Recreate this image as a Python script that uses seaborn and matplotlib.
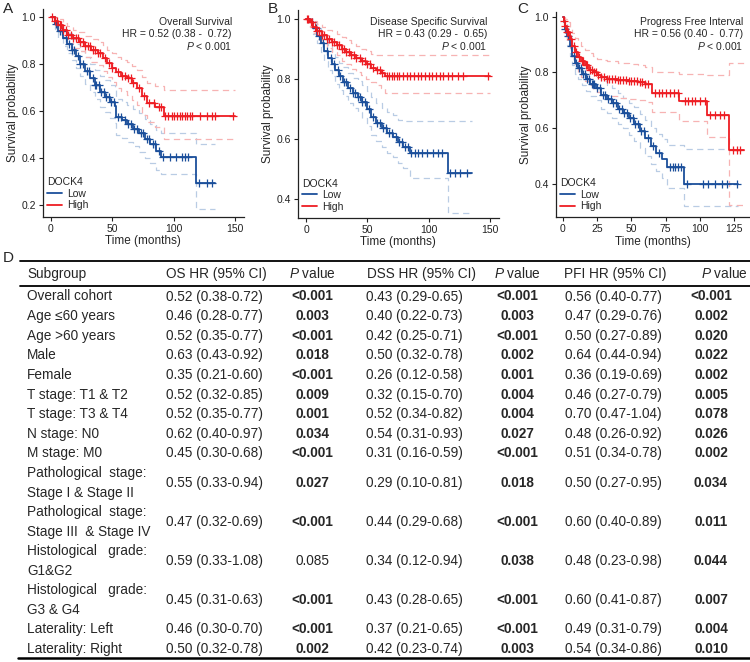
import numpy as np
import matplotlib
matplotlib.use("Agg")
import matplotlib.pyplot as plt
import seaborn as sns

# ---- KM curves (step points) ----
# A: overall survival
os_low_t = [0, 3, 6, 10, 13, 17, 20, 24, 28, 32, 36, 40, 44, 48, 52, 53, 58, 62, 67, 72, 77, 81, 86, 90, 118, 134]
os_low_s = [1.0, 0.97, 0.94, 0.91, 0.885, 0.86, 0.835, 0.80, 0.77, 0.74, 0.71, 0.68, 0.66, 0.64, 0.62, 0.575, 0.56, 0.545, 0.525, 0.505, 0.48, 0.46, 0.43, 0.405, 0.295, 0.295]
os_low_lo = [1.0, 0.95, 0.91, 0.875, 0.845, 0.815, 0.785, 0.75, 0.715, 0.68, 0.65, 0.615, 0.595, 0.57, 0.55, 0.50, 0.485, 0.47, 0.45, 0.425, 0.40, 0.38, 0.35, 0.33, 0.185, 0.185]
os_low_hi = [1.0, 0.99, 0.97, 0.95, 0.93, 0.905, 0.885, 0.855, 0.83, 0.80, 0.775, 0.75, 0.73, 0.71, 0.695, 0.65, 0.64, 0.625, 0.61, 0.59, 0.565, 0.545, 0.52, 0.505, 0.46, 0.46]
os_low_cens = [4, 7, 9, 12, 15, 17, 19, 22, 24, 26, 29, 31, 34, 36, 37, 39, 41, 43, 45, 47, 49, 51, 55, 57, 60, 63, 65, 68, 70, 73, 75, 78, 80, 83, 85, 88,
               91.5, 97, 102, 106.5, 109, 112, 121, 127, 131]
os_high_t = [0, 3, 6, 10, 13, 18, 23, 28, 33, 38, 42, 46, 50, 53, 57, 62, 66, 70, 74, 78, 85, 92, 150]
os_high_s = [1.0, 0.985, 0.965, 0.945, 0.925, 0.91, 0.895, 0.875, 0.86, 0.845, 0.825, 0.805, 0.785, 0.765, 0.75, 0.74, 0.72, 0.70, 0.665, 0.635, 0.615, 0.578, 0.578]
os_high_lo = [1.0, 0.97, 0.94, 0.915, 0.89, 0.87, 0.855, 0.83, 0.81, 0.795, 0.77, 0.745, 0.725, 0.70, 0.685, 0.67, 0.645, 0.625, 0.585, 0.555, 0.53, 0.48, 0.48]
os_high_hi = [1.0, 1.0, 0.99, 0.975, 0.96, 0.945, 0.935, 0.92, 0.905, 0.895, 0.88, 0.86, 0.845, 0.83, 0.815, 0.81, 0.79, 0.775, 0.745, 0.72, 0.705, 0.69, 0.69]
os_high_cens = [1, 3, 5, 7, 8, 10, 12, 14, 16, 18, 20, 22, 24, 26, 28, 30, 32, 34, 36, 38, 40, 44, 47, 50, 55, 58, 60, 63, 65, 67, 72, 76, 80, 84, 88, 90,
                93, 95.6, 98.4, 100, 102.4, 105, 107, 109, 111, 113, 114.6, 121.4, 127, 131, 133.6, 148.6]

# B: disease specific survival
dss_low_t = [0, 3, 6, 9, 12, 15, 18, 21, 24, 27, 30, 34, 38, 42, 46, 50, 53, 57, 62, 66, 71, 75, 79, 85, 116, 135]
dss_low_s = [1.0, 0.99, 0.97, 0.945, 0.92, 0.895, 0.87, 0.85, 0.83, 0.81, 0.79, 0.77, 0.755, 0.74, 0.725, 0.70, 0.675, 0.655, 0.637, 0.62, 0.607, 0.59, 0.575, 0.553, 0.487, 0.487]
dss_low_lo = [1.0, 0.975, 0.95, 0.92, 0.89, 0.86, 0.83, 0.81, 0.785, 0.765, 0.745, 0.72, 0.705, 0.69, 0.67, 0.645, 0.615, 0.595, 0.575, 0.555, 0.54, 0.52, 0.505, 0.472, 0.355, 0.355]
dss_low_hi = [1.0, 1.0, 0.99, 0.97, 0.95, 0.93, 0.91, 0.89, 0.875, 0.855, 0.84, 0.82, 0.805, 0.795, 0.78, 0.76, 0.74, 0.72, 0.705, 0.69, 0.68, 0.665, 0.661, 0.661, 0.661, 0.661]
dss_low_cens = [5, 8, 11, 14, 17, 20, 23, 26, 28, 31, 33, 36, 38, 40, 42, 44, 46, 48, 51, 55, 58, 60, 63, 65, 68, 70, 73, 76, 78, 81, 83,
                86, 88.9, 91.6, 94.3, 98.4, 103.8, 107.8, 110.6, 117.4, 121.4, 125.5, 131]
dss_high_t = [0, 3, 6, 9, 13, 17, 21, 25, 29, 33, 37, 41, 45, 49, 53, 57, 61, 64, 150]
dss_high_s = [1.0, 0.99, 0.975, 0.96, 0.948, 0.935, 0.925, 0.915, 0.90, 0.89, 0.88, 0.87, 0.86, 0.85, 0.837, 0.83, 0.82, 0.811, 0.811]
dss_high_lo = [1.0, 0.975, 0.955, 0.935, 0.92, 0.905, 0.89, 0.88, 0.86, 0.85, 0.835, 0.825, 0.815, 0.80, 0.79, 0.78, 0.77, 0.755, 0.753]
dss_high_hi = [1.0, 1.0, 0.995, 0.985, 0.975, 0.965, 0.96, 0.95, 0.94, 0.93, 0.92, 0.91, 0.90, 0.895, 0.885, 0.882, 0.881, 0.881, 0.881]
dss_high_cens = [1, 2, 4, 5, 7, 9, 11, 13, 15, 17, 19, 21, 23, 25, 27, 29, 31, 33, 35, 37, 39, 41, 44, 46, 48, 50, 52, 55, 58, 60, 62,
                 66, 68, 70, 72, 74, 76, 79, 82, 85, 88, 91, 94, 97, 100, 103, 106, 109, 112, 116, 119, 124, 128, 148.6]

# C: progress free interval
pfi_low_t = [0, 1, 2, 3, 5, 7, 9, 11, 14, 17, 20, 24, 28, 32, 36, 40, 44, 48, 52, 56, 60, 64, 68, 72, 76, 88, 128]
pfi_low_s = [1.0, 0.98, 0.955, 0.93, 0.895, 0.86, 0.835, 0.815, 0.795, 0.775, 0.76, 0.745, 0.72, 0.705, 0.69, 0.67, 0.655, 0.635, 0.615, 0.59, 0.565, 0.535, 0.51, 0.49, 0.462, 0.40, 0.40]
pfi_low_lo = [1.0, 0.965, 0.93, 0.90, 0.86, 0.825, 0.795, 0.775, 0.755, 0.735, 0.715, 0.70, 0.67, 0.655, 0.635, 0.615, 0.60, 0.575, 0.555, 0.53, 0.50, 0.47, 0.445, 0.42, 0.385, 0.32, 0.32]
pfi_low_hi = [1.0, 0.995, 0.98, 0.96, 0.93, 0.90, 0.875, 0.855, 0.835, 0.82, 0.805, 0.79, 0.77, 0.755, 0.745, 0.725, 0.71, 0.69, 0.675, 0.65, 0.63, 0.60, 0.58, 0.56, 0.54, 0.525, 0.525]
pfi_low_cens = [2, 4, 6, 8, 10, 12, 13, 15, 16, 18, 19, 21, 22, 23, 25, 27, 29, 31, 33, 35, 37, 39, 41, 43, 45, 47, 49, 51, 53, 55, 57, 59, 62, 66, 70,
                78, 80, 82, 84, 86, 90.3, 102.4, 106, 110.9, 115.8, 119.4, 127]
pfi_high_t = [0, 1, 2, 3, 5, 7, 9, 11, 13, 16, 19, 22, 25, 28, 32, 40, 48, 55, 60, 65, 85, 105, 121, 132]
pfi_high_s = [1.0, 0.985, 0.965, 0.945, 0.92, 0.895, 0.875, 0.855, 0.84, 0.825, 0.81, 0.80, 0.79, 0.783, 0.778, 0.774, 0.77, 0.765, 0.76, 0.728, 0.698, 0.648, 0.522, 0.522]
pfi_high_lo = [1.0, 0.965, 0.94, 0.91, 0.88, 0.85, 0.825, 0.80, 0.785, 0.77, 0.755, 0.74, 0.73, 0.72, 0.715, 0.71, 0.705, 0.70, 0.695, 0.66, 0.625, 0.57, 0.325, 0.325]
pfi_high_hi = [1.0, 1.0, 0.99, 0.98, 0.96, 0.94, 0.925, 0.91, 0.895, 0.88, 0.87, 0.86, 0.85, 0.845, 0.84, 0.835, 0.83, 0.825, 0.82, 0.80, 0.795, 0.79, 0.835, 0.835]
pfi_high_cens = [1, 2, 3, 4, 6, 8, 10, 12, 14, 15, 17, 18, 20, 21, 23, 24, 26, 28, 30, 32, 34, 36, 38, 40, 42, 44, 46, 48, 50, 52, 54, 56, 58, 60, 62,
                 67, 70, 72, 75, 78, 81, 84, 89, 91.5, 94, 96.4, 100, 103.6, 107.3, 110.9, 114.6, 117.5, 124.3, 126.7, 129.1]

# ---- table D ----
subgroups = ["Overall cohort", "Age ≤60 years", "Age >60 years", "Male", "Female",
             "T stage: T1 & T2", "T stage: T3 & T4", "N stage: N0", "M stage: M0",
             "Pathological  stage:\nStage I & Stage II", "Pathological  stage:\nStage III  & Stage IV",
             "Histological   grade:\nG1&G2", "Histological   grade:\nG3 & G4",
             "Laterality: Left", "Laterality: Right"]
os_hr = ["0.52 (0.38-0.72)", "0.46 (0.28-0.77)", "0.52 (0.35-0.77)", "0.63 (0.43-0.92)", "0.35 (0.21-0.60)",
         "0.52 (0.32-0.85)", "0.52 (0.35-0.77)", "0.62 (0.40-0.97)", "0.45 (0.30-0.68)", "0.55 (0.33-0.94)",
         "0.47 (0.32-0.69)", "0.59 (0.33-1.08)", "0.45 (0.31-0.63)", "0.46 (0.30-0.70)", "0.50 (0.32-0.78)"]
os_p = ["<0.001", "0.003", "<0.001", "0.018", "<0.001", "0.009", "0.001", "0.034", "<0.001", "0.027",
        "<0.001", "0.085", "<0.001", "<0.001", "0.002"]
dss_hr = ["0.43 (0.29-0.65)", "0.40 (0.22-0.73)", "0.42 (0.25-0.71)", "0.50 (0.32-0.78)", "0.26 (0.12-0.58)",
          "0.32 (0.15-0.70)", "0.52 (0.34-0.82)", "0.54 (0.31-0.93)", "0.31 (0.16-0.59)", "0.29 (0.10-0.81)",
          "0.44 (0.29-0.68)", "0.34 (0.12-0.94)", "0.43 (0.28-0.65)", "0.37 (0.21-0.65)", "0.42 (0.23-0.74)"]
dss_p = ["<0.001", "0.003", "<0.001", "0.002", "0.001", "0.004", "0.004", "0.027", "<0.001", "0.018",
         "<0.001", "0.038", "<0.001", "<0.001", "0.003"]
pfi_hr = ["0.56 (0.40-0.77)", "0.47 (0.29-0.76)", "0.50 (0.27-0.89)", "0.64 (0.44-0.94)", "0.36 (0.19-0.69)",
          "0.46 (0.27-0.79)", "0.70 (0.47-1.04)", "0.48 (0.26-0.92)", "0.51 (0.34-0.78)", "0.50 (0.27-0.95)",
          "0.60 (0.40-0.89)", "0.48 (0.23-0.98)", "0.60 (0.41-0.87)", "0.49 (0.31-0.79)", "0.54 (0.34-0.86)"]
pfi_p = ["<0.001", "0.002", "0.020", "0.022", "0.002", "0.005", "0.078", "0.026", "0.002", "0.034",
         "0.011", "0.044", "0.007", "0.004", "0.010"]
not_bold = ["0.085"]

sns.set_style("ticks")
plt.rcParams["font.family"] = ["Liberation Sans", "DejaVu Sans"]
plt.rcParams["mathtext.fontset"] = "custom"
plt.rcParams["mathtext.rm"] = "Liberation Sans"
plt.rcParams["mathtext.it"] = "Liberation Sans:italic"

BLUE, RED = "#1b4f9b", "#ee1d23"
LBLUE, LRED = "#b9cce4", "#f7b3b3"
W, H = 750, 662

fig = plt.figure(figsize=(7.5, 6.62), dpi=100)


def place(ax, xa, xb, ya, yb, xlim, ylim):
    # put the axes so that given data values land on given pixels
    sx = (xb[1] - xa[1]) / (xb[0] - xa[0])
    sy = (yb[1] - ya[1]) / (yb[0] - ya[0])
    left = xa[1] + (xlim[0] - xa[0]) * sx
    right = xa[1] + (xlim[1] - xa[0]) * sx
    top = ya[1] + (ylim[1] - ya[0]) * sy
    bottom = ya[1] + (ylim[0] - ya[0]) * sy
    ax.set_position([left / W, 1 - bottom / H, (right - left) / W, (bottom - top) / H])
    ax.set_xlim(xlim)
    ax.set_ylim(ylim)


def km(ax, t, s, lo, hi, cens, color, light, label):
    t = np.array(t, float); s = np.array(s); cens = np.array(cens, float)
    for band in (lo, hi):
        sns.lineplot(x=t, y=band, ax=ax, color=light, lw=0.9, drawstyle="steps-post",
                     linestyle=(0, (5, 3.5)), legend=False, zorder=1)
    sns.lineplot(x=t, y=s, ax=ax, color=color, lw=1.3, drawstyle="steps-post", label=label, zorder=3)
    cy = s[np.searchsorted(t, cens, side="right") - 1]
    sns.scatterplot(x=cens, y=cy, ax=ax, marker="+", color=color, s=26, linewidth=0.9, legend=False, zorder=3)


panels = [
    (os_low_t, os_low_s, os_low_lo, os_low_hi, os_low_cens, os_high_t, os_high_s, os_high_lo, os_high_hi, os_high_cens),
    (dss_low_t, dss_low_s, dss_low_lo, dss_low_hi, dss_low_cens, dss_high_t, dss_high_s, dss_high_lo, dss_high_hi, dss_high_cens),
    (pfi_low_t, pfi_low_s, pfi_low_lo, pfi_low_hi, pfi_low_cens, pfi_high_t, pfi_high_s, pfi_high_lo, pfi_high_hi, pfi_high_cens),
]
layout = [
    dict(xa=(0, 51), xb=(150, 235), ya=(1.0, 17), yb=(0.2, 205), xlim=(-6.5, 157), ylim=(0.15, 1.035),
         xt=[0, 50, 100, 150], yt=[0.2, 0.4, 0.6, 0.8, 1.0]),
    dict(xa=(0, 306), xb=(150, 490), ya=(1.0, 19.3), yb=(0.4, 199.3), xlim=(-6.5, 157), ylim=(0.338, 1.03),
         xt=[0, 50, 100, 150], yt=[0.4, 0.6, 0.8, 1.0]),
    dict(xa=(0, 562.7), xb=(125, 734.3), ya=(1.0, 16.7), yb=(0.4, 184), xlim=(-5, 136.5), ylim=(0.28, 1.017),
         xt=[0, 25, 50, 75, 100, 125], yt=[0.4, 0.6, 0.8, 1.0]),
]

for data, lay in zip(panels, layout):
    ax = fig.add_axes([0, 0, 1, 1])
    km(ax, *data[:5], BLUE, LBLUE, "Low")
    km(ax, *data[5:], RED, LRED, "High")
    place(ax, lay["xa"], lay["xb"], lay["ya"], lay["yb"], lay["xlim"], lay["ylim"])
    ax.set_xticks(lay["xt"])
    ax.set_yticks(lay["yt"])
    ax.set_yticklabels([f"{v:.1f}" for v in lay["yt"]])
    ax.tick_params(labelsize=7.5, length=3, width=0.8, pad=2, colors="#222222")
    for sp in ("left", "bottom"):
        ax.spines[sp].set_linewidth(0.9)
        ax.spines[sp].set_color("#222222")
    sns.despine(ax=ax)
    ax.set_xlabel("Time (months)", fontsize=8.5, labelpad=1)
    ax.set_ylabel("Survival probability", fontsize=8.5, labelpad=2)
    ax.legend(title="DOCK4", loc="lower left", bbox_to_anchor=(-0.01, 0.0), frameon=False,
              fontsize=7.5, title_fontsize=7.5, handlelength=1.4, handletextpad=0.5,
              labelspacing=0.15, borderaxespad=0.2, alignment="left")

# overlay in pixel coordinates for labels and the table
ov = fig.add_axes([0, 0, 1, 1])
ov.set_xlim(0, W)
ov.set_ylim(H, 0)
ov.axis("off")

for lab, x in zip("ABC", [3, 268, 517]):
    ov.text(x, 9, lab, fontsize=11, va="center", ha="left")

annots = [("Overall Survival", "HR = 0.52 (0.38 -  0.72)", 232),
          ("Disease Specific Survival", "HR = 0.43 (0.29 -  0.65)", 487),
          ("Progress Free Interval", "HR = 0.56 (0.40 -  0.77)", 743)]
for title, hr, xr in annots:
    ov.text(xr, 22, title, fontsize=7.5, ha="right", va="center")
    ov.text(xr, 34, hr, fontsize=7.5, ha="right", va="center")
    ov.text(xr, 45.5, r"$\mathit{P}$ < 0.001", fontsize=7.5, ha="right", va="center")

# table
ov.text(3, 258, "D", fontsize=11, va="center", ha="left")
ov.plot([20, 750], [261, 261], color="black", lw=1.3)
ov.plot([20, 750], [285.5, 285.5], color="black", lw=1.3)
ov.plot([18, 750], [658, 658], color="black", lw=1.8)

fs = 9.8
hy = 274
ov.text(27, hy, "Subgroup", fontsize=fs, va="center")
ov.text(166, hy, "OS HR (95% CI)", fontsize=fs, va="center")
ov.text(312, hy, r"$\mathit{P}$ value", fontsize=fs, va="center", ha="center")
ov.text(367, hy, "DSS HR (95% CI)", fontsize=fs, va="center")
ov.text(517, hy, r"$\mathit{P}$ value", fontsize=fs, va="center", ha="center")
ov.text(564, hy, "PFI HR (95% CI)", fontsize=fs, va="center")
ov.text(724, hy, r"$\mathit{P}$ value", fontsize=fs, va="center", ha="center")

y = 296.5
for i, lab in enumerate(subgroups):
    two = "\n" in lab
    if i > 0:
        prev_two = "\n" in subgroups[i - 1]
        y += (19.5 if prev_two else 9.8) + (19.5 if two else 9.8)
    ov.text(27, y, lab, fontsize=fs, va="center", linespacing=1.55)
    for hr, x in ((os_hr[i], 166), (dss_hr[i], 366), (pfi_hr[i], 565)):
        ov.text(x, y, hr, fontsize=fs, va="center")
    for p, x in ((os_p[i], 312), (dss_p[i], 517), (pfi_p[i], 711)):
        ov.text(x, y, p, fontsize=fs, va="center", ha="center",
                fontweight="normal" if p in not_bold else "bold")

fig.savefig("out.png", dpi=100)
